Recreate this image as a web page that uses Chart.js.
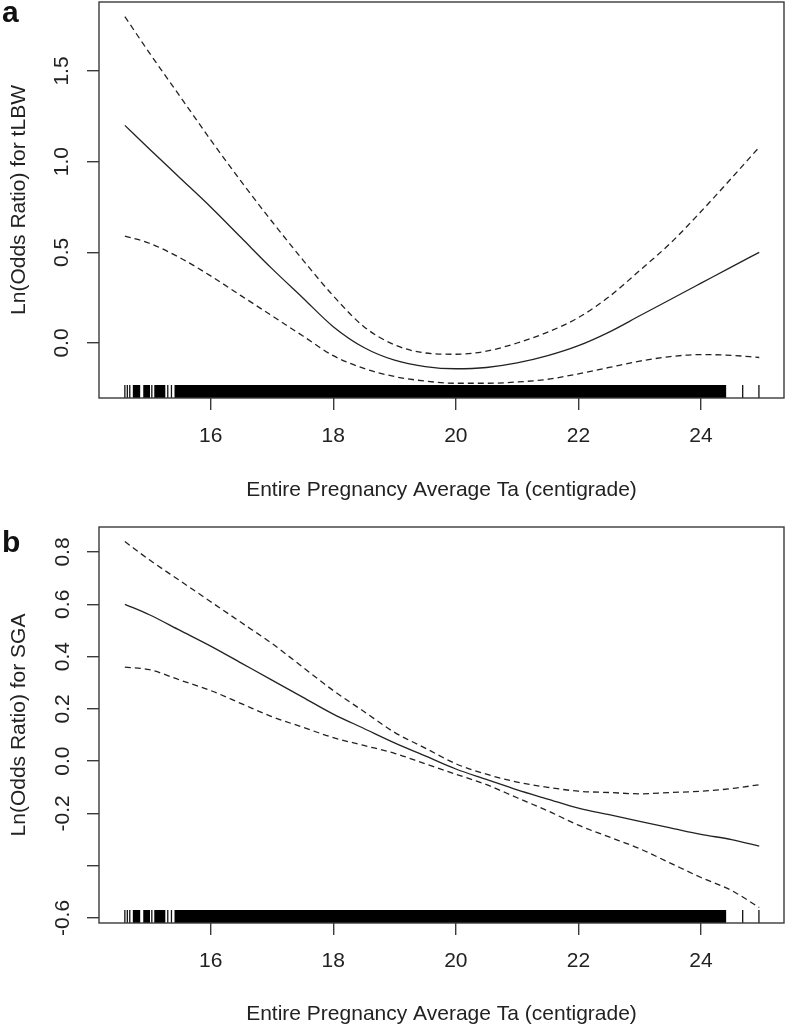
<!DOCTYPE html>
<html>
<head>
<meta charset="utf-8">
<script src="https://cdn.jsdelivr.net/npm/chart.js@4.4.1/dist/chart.umd.min.js"></script>
<style>
  body { margin: 0; background: #fff; }
  #page { position: relative; width: 787px; height: 1028px; overflow: hidden; font-family: "Liberation Sans", Arial, sans-serif; }
  canvas { position: absolute; left: 0; }
  #chartA { top: 0; }
  #chartB { top: 514px; }
  .tag { position: absolute; left: 2px; font-weight: bold; font-size: 30px; line-height: 30px; color: #111; }
</style>
</head>
<body>
<div id="page">
  <canvas id="chartA" width="787" height="514"></canvas>
  <canvas id="chartB" width="787" height="514"></canvas>
  <div class="tag" style="top:-3px">a</div>
  <div class="tag" style="top:527px">b</div>
</div>
<script>
// temperature grid (x) for both panels
const tempA = [14.6, 15, 15.5, 16, 16.5, 17, 17.5, 18, 18.5, 19, 19.5, 20, 20.5, 21, 21.5, 22, 22.5, 23, 23.5, 24, 24.5, 24.95];
const tempB = [14.6, 15, 15.5, 16, 16.5, 17, 17.5, 18, 18.5, 19, 19.5, 20, 20.5, 21, 21.5, 22, 22.5, 23, 23.5, 24, 24.5, 24.95];

// panel a: tLBW
const fitA   = [1.20, 1.07, 0.91, 0.75, 0.58, 0.41, 0.25, 0.09, -0.025, -0.095, -0.13, -0.142, -0.135, -0.11, -0.07, -0.015, 0.06, 0.15, 0.24, 0.33, 0.42, 0.50];
const upperA = [1.80, 1.60, 1.36, 1.12, 0.89, 0.67, 0.46, 0.26, 0.09, -0.01, -0.055, -0.062, -0.045, 0.0, 0.06, 0.14, 0.255, 0.40, 0.55, 0.725, 0.91, 1.08];
const lowerA = [0.59, 0.55, 0.47, 0.37, 0.26, 0.15, 0.04, -0.07, -0.14, -0.185, -0.21, -0.222, -0.222, -0.215, -0.20, -0.17, -0.135, -0.10, -0.075, -0.064, -0.068, -0.08];

// panel b: SGA
const fitB   = [0.60, 0.56, 0.50, 0.44, 0.375, 0.31, 0.245, 0.18, 0.125, 0.07, 0.02, -0.03, -0.07, -0.11, -0.145, -0.18, -0.205, -0.23, -0.255, -0.28, -0.30, -0.325];
const upperB = [0.84, 0.77, 0.69, 0.61, 0.53, 0.45, 0.36, 0.27, 0.19, 0.11, 0.05, -0.01, -0.05, -0.08, -0.10, -0.115, -0.12, -0.125, -0.12, -0.115, -0.105, -0.09];
const lowerB = [0.36, 0.35, 0.31, 0.27, 0.22, 0.17, 0.13, 0.09, 0.06, 0.03, -0.01, -0.05, -0.09, -0.14, -0.19, -0.245, -0.29, -0.335, -0.39, -0.445, -0.495, -0.56];

// rug of observed temperatures (single ticks + ranges where ticks merge)
const rugTicks  = [14.60, 14.64, 14.68, 15.04, 15.30, 15.36, 24.68, 24.945];
const rugBlocks = [[14.73, 14.85], [14.90, 15.01], [15.08, 15.26], [15.41, 24.41]];

// axes
const xRange = [14.178, 25.354];
const xTicks = [16, 18, 20, 22, 24];
const yRangeA = [-0.3033, 1.8805];
const yTicksA = [0, 0.5, 1, 1.5];
const yLabelsA = ['0.0', '0.5', '1.0', '1.5'];
const yRangeB = [-0.6191, 0.8956];
const yTicksB = [-0.6, -0.4, -0.2, 0, 0.2, 0.4, 0.6, 0.8];
const yLabelsB = ['-0.6', '', '-0.2', '0.0', '0.2', '0.4', '0.6', '0.8'];

const xTitle = 'Entire Pregnancy Average Ta (centigrade)';
const FONT = '"Liberation Sans", Arial, sans-serif';
const TEXT = '#222';
const AXIS = '#3a3a3a';

// R-style box round the plot region
const boxPlugin = {
    id: 'box',
    afterDraw(chart) {
        const { ctx, chartArea: a } = chart;
        ctx.save();
        ctx.strokeStyle = AXIS;
        ctx.lineWidth = 1.4;
        ctx.strokeRect(a.left, a.top, a.right - a.left, a.bottom - a.top);
        ctx.restore();
    }
};

// rug along the bottom of the plot region
const rugPlugin = {
    id: 'rug',
    afterDatasetsDraw(chart) {
        const { ctx, chartArea, scales: { x } } = chart;
        const h = 13;
        const bottom = chartArea.bottom;
        ctx.save();
        ctx.fillStyle = '#000';
        ctx.strokeStyle = '#111';
        rugBlocks.forEach(([a, b]) => {
            const x0 = x.getPixelForValue(a);
            const x1 = x.getPixelForValue(b);
            ctx.fillRect(x0, bottom - h, x1 - x0, h);
        });
        ctx.lineWidth = 1.3;
        rugTicks.forEach(v => {
            const px = x.getPixelForValue(v);
            ctx.beginPath();
            ctx.moveTo(px, bottom - h);
            ctx.lineTo(px, bottom);
            ctx.stroke();
        });
        ctx.restore();
    }
};

function curve(xs, ys, dash) {
    return {
        data: xs.map((x, i) => ({ x, y: ys[i] })),
        borderColor: '#222',
        borderWidth: 1.3,
        borderDash: dash,
        pointRadius: 0,
        fill: false,
        cubicInterpolationMode: 'monotone'
    };
}

function buildChart(id, p) {
    return new Chart(document.getElementById(id), {
        type: 'line',
        data: {
            datasets: [
                curve(p.xs, p.fit, []),
                curve(p.xs, p.upper, [6, 4]),
                curve(p.xs, p.lower, [6, 4])
            ]
        },
        options: {
            responsive: false,
            animation: false,
            devicePixelRatio: 1,
            layout: { padding: { top: p.padTop, right: 3, left: 0, bottom: 0 } },
            plugins: { legend: { display: false }, tooltip: { enabled: false } },
            scales: {
                x: {
                    type: 'linear',
                    min: xRange[0],
                    max: xRange[1],
                    afterBuildTicks: s => { s.ticks = xTicks.map(v => ({ value: v })); },
                    afterFit: s => { s.height = p.xAxisHeight; s.paddingLeft = 0; s.paddingRight = 0; },
                    border: { display: false },
                    grid: { drawOnChartArea: false, tickLength: 12, color: AXIS, lineWidth: 1.4 },
                    ticks: {
                        color: TEXT, font: { family: FONT, size: 21 }, padding: 14,
                        maxRotation: 0, autoSkip: false, callback: v => String(v)
                    },
                    title: {
                        display: true, text: xTitle, color: TEXT,
                        font: { family: FONT, size: 21 }, padding: { top: 0, bottom: p.xTitlePad }
                    }
                },
                y: {
                    min: p.yRange[0],
                    max: p.yRange[1],
                    afterBuildTicks: s => { s.ticks = p.yTicks.map(v => ({ value: v })); },
                    afterFit: s => { s.width = 99; s.paddingTop = 0; s.paddingBottom = 0; },
                    border: { display: false },
                    grid: { drawOnChartArea: false, tickLength: 12, color: AXIS, lineWidth: 1.4 },
                    ticks: {
                        color: TEXT, font: { family: FONT, size: 21 }, padding: p.yTickPad,
                        minRotation: 90, maxRotation: 90, crossAlign: 'center', autoSkip: false,
                        callback: (v, i) => p.yLabels[i]
                    },
                    title: {
                        display: true, text: p.yTitle, color: TEXT,
                        font: { family: FONT, size: 21 }, padding: { top: 7, bottom: 0 }
                    }
                }
            }
        },
        plugins: [boxPlugin, rugPlugin]
    });
}

buildChart('chartA', {
    xs: tempA, fit: fitA, upper: upperA, lower: lowerA,
    yRange: yRangeA, yTicks: yTicksA, yLabels: yLabelsA,
    yTitle: 'Ln(Odds Ratio) for tLBW',
    padTop: 2, xAxisHeight: 116, xTitlePad: 11, yTickPad: 10
});

buildChart('chartB', {
    xs: tempB, fit: fitB, upper: upperB, lower: lowerB,
    yRange: yRangeB, yTicks: yTicksB, yLabels: yLabelsB,
    yTitle: 'Ln(Odds Ratio) for SGA',
    padTop: 13, xAxisHeight: 105, xTitlePad: 1, yTickPad: 6
});
</script>
</body>
</html>
